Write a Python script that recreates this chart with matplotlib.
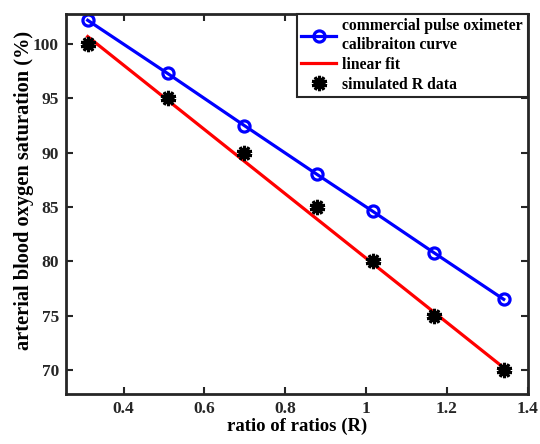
import matplotlib.pyplot as plt
import numpy as np

# Data
ratio_R = [0.311, 0.509, 0.699, 0.879, 1.017, 1.168, 1.341]
spo2_commercial = [102.2, 97.3, 92.5, 88.0, 84.6, 80.8, 76.5]
spo2_simulated = [100, 95, 90, 85, 80, 75, 70]
fit_R = [0.311, 1.341]
fit_spo2 = [100.7, 70.2]

plt.rcParams['font.family'] = ['Liberation Serif', 'DejaVu Serif']
plt.rcParams['font.weight'] = 'bold'

fig = plt.figure(figsize=(5.4, 4.44), dpi=100)
ax = fig.add_axes([0.122, 0.113, 0.855, 0.856])

ax.plot(ratio_R, spo2_commercial, '-o', color='#0000ff', lw=2.3, ms=8,
        mfc='none', mew=2.3, label='commercial pulse oximeter\ncalibraiton curve')
ax.plot(fit_R, fit_spo2, '-', color='#ff0000', lw=2.3, label='linear fit')
ax.plot(ratio_R, spo2_simulated, ls='none', marker=(10, 2, 0), color='black',
        ms=11, mew=2.2, label='simulated R data')

ax.set_xlim(0.257, 1.4)
ax.set_ylim(67.8, 102.8)
ax.set_xticks([0.4, 0.6, 0.8, 1.0, 1.2, 1.4])
ax.set_xticklabels(['0.4', '0.6', '0.8', '1', '1.2', '1.4'])
ax.set_yticks([70, 75, 80, 85, 90, 95, 100])

ax.tick_params(direction='in', top=True, right=True, length=5, width=1.5,
               labelsize=12.5, colors='#262626', pad=5)
for s in ax.spines.values():
    s.set_linewidth(2)
    s.set_color('#262626')

ax.set_xlabel('ratio of ratios (R)', fontsize=13.5, fontweight='bold', labelpad=1)
ax.set_ylabel('arterial blood oxygen saturation (%)', fontsize=14.7, fontweight='bold')
ax.yaxis.set_label_coords(-0.07, 0.535)

leg = ax.legend(loc='upper right', borderaxespad=0, fontsize=11.3, fancybox=False,
                edgecolor='#262626', framealpha=1, handlelength=2.2,
                handletextpad=0.4, labelspacing=0.25, borderpad=0.3)
leg.get_frame().set_linewidth(1.5)
for t in leg.get_texts():
    t.set_fontweight('bold')

fig.savefig('out.png', dpi=100)
